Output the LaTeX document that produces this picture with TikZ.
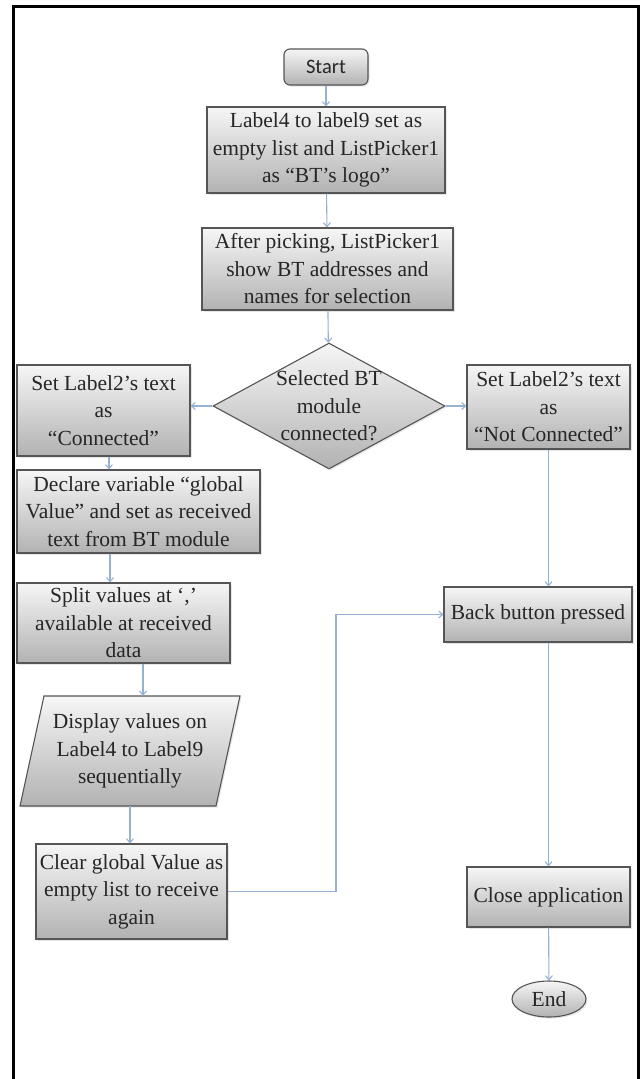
\documentclass[tikz,border=0pt]{standalone}
\usepackage{fontspec}
\setmainfont{Liberation Serif}
\newfontfamily\boxfont{Liberation Serif}
\newfontfamily\startfont{Carlito}
\usetikzlibrary{arrows.meta,shapes.geometric,shadows}

\definecolor{linkblue}{RGB}{150,178,210}
\definecolor{boxedge}{RGB}{85,85,85}
\definecolor{boxtop}{RGB}{246,246,246}
\definecolor{boxbottom}{RGB}{178,178,178}

\begin{document}
\begin{tikzpicture}[x=1pt,y=-1pt,
    every node/.style={font=\boxfont\fontsize{21.5}{27.5}\selectfont, text=black!85},
    box/.style={draw=boxedge, line width=1.1pt, top color=boxtop, bottom color=boxbottom,
        drop shadow={opacity=0.2, shadow xshift=1.5pt, shadow yshift=-1.5pt}},
    txtbox/.style={box, align=center, inner sep=2pt},
    flow/.style={draw=linkblue, line width=1.1pt, -{Straight Barb[length=4pt,width=7pt]}}]

    \useasboundingbox (0,0) rectangle (644,1079);
    \draw[line width=3pt] (13.5,1079) -- (13.5,6) -- (638,6) -- (638,1079);

    % main column
    \node[txtbox, rounded corners=6pt, minimum width=84, minimum height=36, font=\startfont\fontsize{20.5}{24}\selectfont] (start) at (326,67) {Start};
    \node[txtbox, minimum width=238, minimum height=86] (setlist) at (326,150) {Label4 to label9 set as\\empty list and ListPicker1\\as “BT’s logo”};
    \node[txtbox, minimum width=251, minimum height=82, inner ysep=0pt] (picking) at (327.5,269) {After picking, ListPicker1\\show BT addresses and\\names for selection};
    \node[txtbox, shape=diamond, minimum width=232, minimum height=126, inner sep=0pt,
        label={[align=center]center:Selected BT\\module\\connected?}] (check) at (329,406) {};

    % left branch
    \node[txtbox, minimum width=173, minimum height=91] (conn) at (103.5,410.5) {Set Label2’s text\\as\\“Connected”};
    \node[txtbox, minimum width=243, minimum height=83, inner ysep=0pt] (declare) at (138.5,511.5) {Declare variable “global\\Value” and set as received\\text from BT module};
    \node[txtbox, minimum width=213, minimum height=80, inner ysep=0pt] (split) at (123.5,623) {Split values at ‘,’\\available at received\\data};
    % data box drawn as a slanted path
    \path[box] (44,696) -- (240,696) -- (216,806) -- (20,806) -- cycle;
    \node[align=center, minimum width=196, minimum height=110, inner sep=0pt] (display) at (130,751) {Display values on\\Label4 to Label9\\sequentially};
    \node[txtbox, minimum width=191, minimum height=95] (clear) at (131.5,891.5) {Clear global Value as\\empty list to receive\\again};

    % right branch
    \node[txtbox, minimum width=163, minimum height=84, inner ysep=0pt] (notconn) at (548.5,407) {Set Label2’s text\\as\\“Not Connected”};
    \node[txtbox, minimum width=188, minimum height=55] (back) at (538,614.5) {Back button pressed};
    \node[txtbox, minimum width=163, minimum height=60] (close) at (548.5,897) {Close application};
    \node[txtbox, shape=ellipse, minimum width=74, minimum height=36, inner sep=0pt] (finish) at (549,999) {End};

    \coordinate (bend) at (336,0);

    \draw[flow] (start) -- (setlist);
    \draw[flow] (setlist) -- (picking);
    \draw[flow] (picking) -- (check);
    \draw[flow] (check.west) -- (check.west -| conn.east);
    \draw[flow] (check.east) -- (check.east -| notconn.west);
    \draw[flow] ([xshift=5.5pt]conn.south) -- ([xshift=5.5pt]conn.south |- declare.north);
    \draw[flow] ([xshift=-28.5pt]declare.south) -- ([xshift=-28.5pt]declare.south |- split.north);
    \draw[flow] ([xshift=19.5pt]split.south) -- ([xshift=19.5pt]split.south |- display.north);
    \draw[flow] (display.south) -- (display.south |- clear.north);
    \draw[flow] (clear.east) -| (bend |- back.west) -- (back.west);
    \draw[flow] (notconn.south) -- (notconn.south |- back.north);
    \draw[flow] (close.north |- back.south) -- (close.north);
    \draw[flow] (close) -- (finish);

\end{tikzpicture}
\end{document}
